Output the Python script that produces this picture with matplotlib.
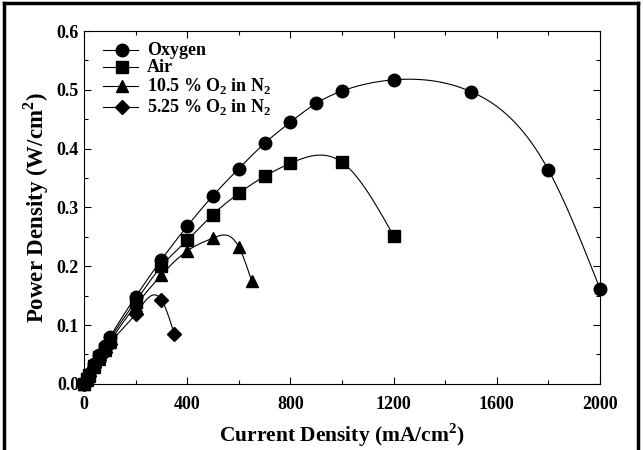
import numpy as np
import matplotlib.pyplot as plt
from matplotlib.lines import Line2D
from matplotlib.ticker import MultipleLocator

plt.rcParams['font.family'] = ['Liberation Serif', 'DejaVu Serif']
plt.rcParams['mathtext.fontset'] = 'custom'
plt.rcParams['mathtext.rm'] = 'Liberation Serif:bold'
plt.rcParams['mathtext.bf'] = 'Liberation Serif:bold'

# data (mA/cm2, W/cm2)
oxy_x = [0, 10, 20, 40, 60, 80, 100, 200, 300, 400, 500, 600, 700, 800, 900, 1000, 1200, 1500, 1800, 2000]
oxy_y = [0.0, 0.008, 0.016, 0.033, 0.049, 0.064, 0.079, 0.148, 0.211, 0.268, 0.320, 0.366, 0.409, 0.445,
         0.477, 0.498, 0.517, 0.497, 0.364, 0.162]
air_x = [0, 10, 20, 40, 60, 80, 100, 200, 300, 400, 500, 600, 700, 800, 1000, 1200]
air_y = [0.0, 0.008, 0.015, 0.031, 0.046, 0.060, 0.075, 0.140, 0.200, 0.244, 0.288, 0.324, 0.353, 0.375,
         0.377, 0.252]
o105_x = [0, 10, 20, 40, 60, 80, 100, 200, 300, 400, 500, 600, 650]
o105_y = [0.0, 0.007, 0.014, 0.029, 0.043, 0.057, 0.071, 0.133, 0.185, 0.226, 0.248, 0.233, 0.175]
o525_x = [0, 10, 20, 40, 60, 80, 100, 200, 300, 350]
o525_y = [0.0, 0.007, 0.014, 0.028, 0.041, 0.055, 0.068, 0.119, 0.143, 0.085]

labels = ['Oxygen', 'Air', r'10.5 % O$_2$ in N$_2$', r'5.25 % O$_2$ in N$_2$']
markers = ['o', 's', '^', 'D']
sizes = [9, 8, 8.5, 7.5]


def natural_spline(x, y, n=400):
    x = np.asarray(x, float)
    y = np.asarray(y, float)
    k = len(x)
    h = np.diff(x)
    A = np.zeros((k, k))
    b = np.zeros(k)
    A[0, 0] = 1
    A[-1, -1] = 1
    for i in range(1, k - 1):
        A[i, i - 1] = h[i - 1]
        A[i, i] = 2 * (h[i - 1] + h[i])
        A[i, i + 1] = h[i]
        b[i] = 6 * ((y[i + 1] - y[i]) / h[i] - (y[i] - y[i - 1]) / h[i - 1])
    M = np.linalg.solve(A, b)
    xs = np.linspace(x[0], x[-1], n)
    idx = np.clip(np.searchsorted(x, xs) - 1, 0, k - 2)
    x0, x1 = x[idx], x[idx + 1]
    hh = x1 - x0
    a = (x1 - xs) / hh
    c = (xs - x0) / hh
    ys = (a * y[idx] + c * y[idx + 1]
          + ((a ** 3 - a) * M[idx] + (c ** 3 - c) * M[idx + 1]) * hh ** 2 / 6)
    return xs, ys


fig = plt.figure(figsize=(6.43, 4.5), dpi=100)
ax = fig.add_axes([0.1306, 0.147, 0.8024, 0.784])

series = [(oxy_x, oxy_y), (air_x, air_y), (o105_x, o105_y), (o525_x, o525_y)]
for (x, y), m, ms in zip(series, markers, sizes):
    xs, ys = natural_spline(x, y)
    ax.plot(xs, ys, color='black', lw=0.8, clip_on=False)
    ax.plot(x, y, ls='none', marker=m, color='black', ms=ms, clip_on=False, zorder=3)

# legend drawn by hand so rows sit like the original
rows = [0.946, 0.898, 0.844, 0.785]
for yy, m, ms, lab in zip(rows, markers, sizes, labels):
    ax.plot([0.037, 0.105], [yy, yy], color='black', lw=0.8, transform=ax.transAxes)
    ax.plot([0.074], [yy], marker=m, ms=ms, color='black', transform=ax.transAxes)
    ax.text(0.122, yy, lab, transform=ax.transAxes, fontsize=13, fontweight='bold', va='center')

ax.set_xlim(0, 2000)
ax.set_ylim(0, 0.6)
ax.xaxis.set_major_locator(MultipleLocator(400))
ax.xaxis.set_minor_locator(MultipleLocator(200))
ax.yaxis.set_major_locator(MultipleLocator(0.1))
ax.yaxis.set_minor_locator(MultipleLocator(0.05))
ax.yaxis.set_major_formatter(plt.FormatStrFormatter('%.1f'))
ax.tick_params(which='both', direction='in', top=True, right=True, labelsize=13, width=0.8)
ax.tick_params(which='major', length=5)
ax.tick_params(which='minor', length=3)
ax.tick_params(axis='x', which='major', pad=9)
for lab in ax.get_xticklabels() + ax.get_yticklabels():
    lab.set_fontweight('bold')
for s in ax.spines.values():
    s.set_linewidth(0.8)

ax.set_xlabel(r'Current Density (mA/cm$^2$)', fontsize=15.5, fontweight='bold', labelpad=6)
ax.set_ylabel(r'Power Density (W/cm$^2$)', fontsize=16.5, fontweight='bold', labelpad=4)

# outer frame of the picture
for xs, ys in [([0.006, 0.006], [0.0, 0.994]), ([0.006, 0.992], [0.994, 0.994]), ([0.992, 0.992], [0.0, 0.994])]:
    fig.add_artist(Line2D(xs, ys, transform=fig.transFigure, color='black', lw=2.5))

fig.savefig('out.png', dpi=100)
